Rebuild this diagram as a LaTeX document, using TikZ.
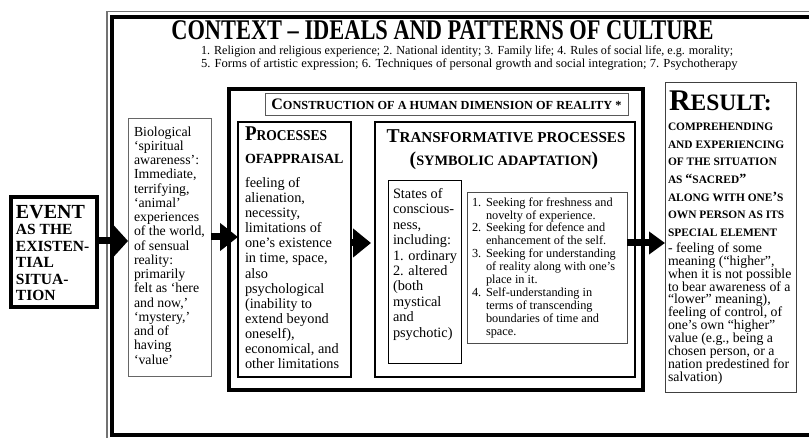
\documentclass[tikz,border=0pt]{standalone}
\usepackage{fontspec}
\setmainfont{Liberation Serif}
\usetikzlibrary{arrows.meta}
\newcommand\fsz[2]{\fontsize{#1}{#2}\selectfont}
\newcommand\itm[1]{\makebox[14pt][l]{#1}}
\tikzset{
  thickbox/.style={draw=black, line width=4pt, inner sep=0pt, outer sep=0pt},
  midbox/.style={draw=black, line width=2pt, inner sep=0pt, outer sep=0pt},
  thinbox/.style={draw=black!80, line width=0.9pt, inner sep=0pt, outer sep=0pt},
  txt/.style={inner sep=0pt, outer sep=0pt, align=left, anchor=north west},
  lbl/.style={inner sep=0pt, outer sep=0pt},
  fat/.style={line width=7pt, -{Triangle[length=14pt,width=30pt]}},
}
\begin{document}
\begin{tikzpicture}[x=1pt,y=-1pt]
\useasboundingbox (0,0) rectangle (809,438);
\clip (0,0) rectangle (809,438);
% outer frame
\draw[draw=black!55, line width=1.2pt] (107,11.5) rectangle (830,460);
\draw[line width=4pt] (112,17) rectangle (825,435);
% boxes
\node[thickbox, minimum width=86.5pt, minimum height=110pt] (event) at (53.75,252) {};
\node[thinbox, draw=black!60, minimum width=83pt, minimum height=258pt] (bio) at (169.5,247) {};
\node[thickbox, minimum width=414pt, minimum height=301pt] (constr) at (436,239.5) {};
\node[thinbox, draw=black!65, minimum width=363pt, minimum height=22pt] (ctbox) at (446.5,104.5) {};
\node[midbox, minimum width=113pt, minimum height=255pt] (appr) at (294.5,249.5) {};
\node[midbox, minimum width=260pt, minimum height=255pt] (trans) at (505,249.5) {};
\node[thinbox, draw=black, minimum width=73pt, minimum height=183pt] (states) at (424.5,271.5) {};
\node[thinbox, draw=black!70, minimum width=160pt, minimum height=151pt] (seek) at (547,267.5) {};
\node[thinbox, draw=black!75, minimum width=131pt, minimum height=310pt] (result) at (730.5,237) {};
% title
\node[lbl] (title) at (442.5,30.5) {\bfseries\fsz{28.5}{28.5}\scalebox{0.786}[1]{CONTEXT – IDEALS AND PATTERNS OF CULTURE}};
\node[lbl, anchor=west] (sub1) at (201,51.5) {\fsz{12.3}{12.3}\scalebox{0.983}[1]{1. Religion and religious experience; 2. National identity; 3. Family life; 4. Rules of social life, e.g. morality;}};
\node[lbl, anchor=west] (sub2) at (201,65) {\fsz{12.3}{12.3}\scalebox{1.026}[1]{5. Forms of artistic expression; 6. Techniques of personal growth and social integration; 7. Psychotherapy}};
% event
\node[txt, font=\fsz{15.5}{16.5}\bfseries] (evt) at (16,205.4) {{\fsz{20}{16.5}EVENT}\\AS THE\\EXISTEN-\\TIAL\\SITUA-\\TION};
% bio
\node[txt, font=\fsz{13.8}{14.25}] (biot) at (134,126.6) {Biological\\‘spiritual\\awareness’:\\Immediate,\\terrifying,\\‘animal’\\experiences\\of the world,\\of sensual\\reality:\\primarily\\felt as ‘here\\and now,’\\‘mystery,’\\and of\\having\\‘value’};
% construction title
\node[lbl, anchor=base] (ctt) at (446.5,109.5) {\bfseries\fsz{16}{16}C\fsz{12.3}{16}ONSTRUCTION OF A HUMAN DIMENSION OF REALITY *};
% appraisal
\node[lbl, anchor=base west] (ph1) at (245,141) {\bfseries\scalebox{0.9}[1]{\fsz{21}{21}P\fsz{15}{21}ROCESSES}};
\node[lbl, anchor=base west] (ph2) at (245,164) {\bfseries\fsz{14}{14}OFAPPRAISAL};
\node[txt, font=\fsz{14.3}{15.1}] (apprt) at (245,177.4) {feeling of\\alienation,\\necessity,\\limitations of\\one’s existence\\in time, space,\\also\\psychological\\(inability to\\extend beyond\\oneself),\\economical, and\\other limitations};
% transformative
\node[lbl, anchor=base] (th1) at (506,143) {\bfseries\fsz{19.6}{20}T\fsz{15.1}{20}RANSFORMATIVE PROCESSES};
\node[lbl, anchor=base] (th2) at (504,166) {\bfseries\fsz{19.6}{20}(\fsz{14.3}{20}SYMBOLIC ADAPTATION\fsz{19.6}{20})};
\node[txt, font=\fsz{14.3}{15.4}] (statest) at (393,188.4) {States of\\conscious-\\ness,\\including:\\1. ordinary\\2. altered\\(both\\mystical\\and\\psychotic)};
\node[txt, font=\fsz{12.3}{12.9}] (seekt) at (472,197.5) {\itm{1.}Seeking for freshness and\\\itm{}novelty of experience.\\\itm{2.}Seeking for defence and\\\itm{}enhancement of the self.\\\itm{3.}Seeking for understanding\\\itm{}of reality along with one’s\\\itm{}place in it.\\\itm{4.}Self-understanding in\\\itm{}terms of transcending\\\itm{}boundaries of time and\\\itm{}space.};
% result
\node[lbl, anchor=base west] (rt) at (669,111) {\bfseries\fsz{30}{30}R\fsz{23.5}{30}ESULT:};
\node[txt, font=\fsz{11.4}{17.6}\bfseries] (rb) at (668,123.2) {COMPREHENDING\\AND EXPERIENCING\\OF THE SITUATION\\AS {\fsz{14}{17.6}“}SACRED{\fsz{14}{17.6}”}\\ALONG WITH ONE{\fsz{14}{17.6}’}S\\OWN PERSON AS ITS\\SPECIAL ELEMENT};
\node[txt, font=\fsz{13.8}{12.9}] (rr) at (668,242.6) {- feeling of some\\meaning (“higher”,\\when it is not possible\\to bear awareness of a\\“lower” meaning),\\feeling of control, of\\one’s own “higher”\\value (e.g., being a\\chosen person, or a\\nation predestined for\\salvation)};
% arrows
\coordinate (y1) at (0,241);
\coordinate (y2) at (0,237);
\coordinate (y3) at (0,243);
\coordinate (y4) at (0,243);
\draw[fat] (event.east |- y1) -- (bio.west |- y1);
\draw[fat, -{Triangle[length=18pt,width=27pt]}] (bio.east |- y2) -- (appr.west |- y2);
\draw[fat, -{Triangle[length=18pt,width=28pt]}, shorten >=4pt] (appr.east |- y3) -- (trans.west |- y3);
\draw[fat, -{Triangle[length=16pt,width=22pt]}] (seek.east |- y4) -- (result.west |- y4);
\end{tikzpicture}
\end{document}
